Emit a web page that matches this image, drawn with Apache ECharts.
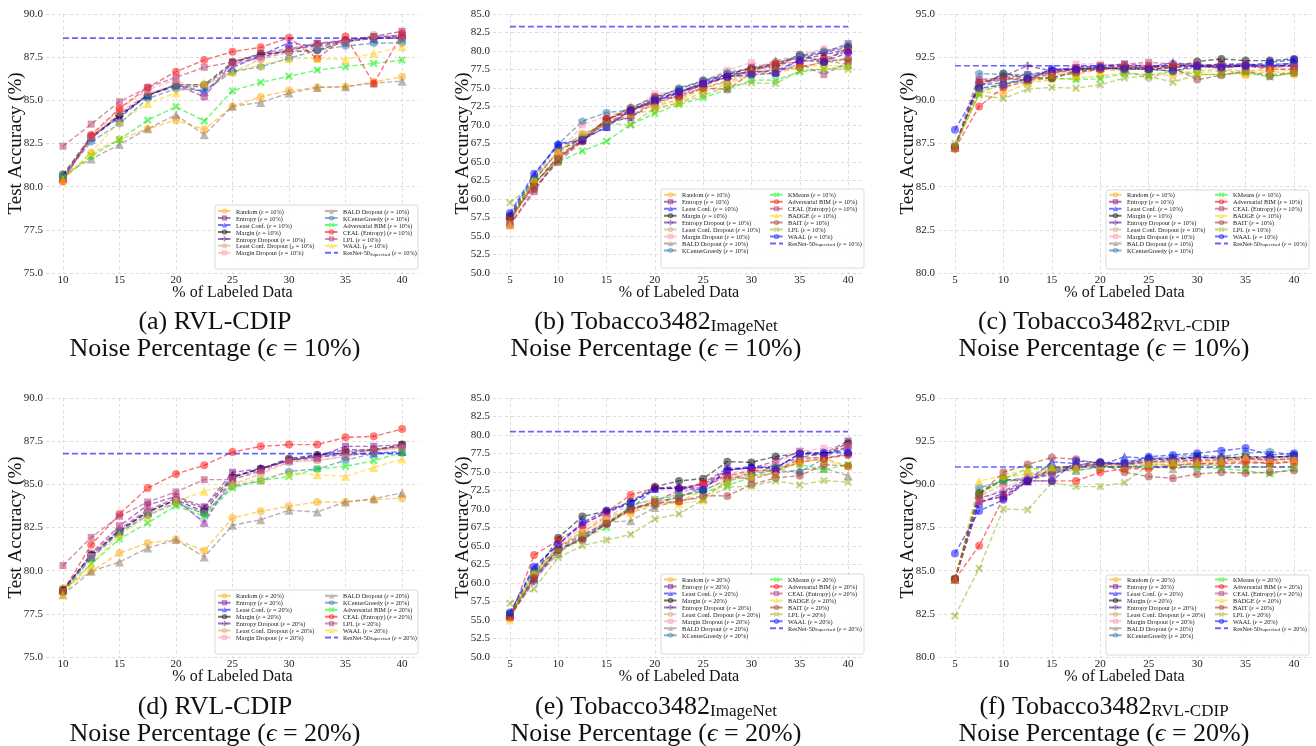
<!DOCTYPE html>
<html><head><meta charset="utf-8">
<script src="https://cdn.jsdelivr.net/npm/echarts@6/dist/echarts.min.js"></script>
<style>html,body{margin:0;padding:0;background:#fff}#c{width:1316px;height:746px}</style>
</head><body><div id="c"></div>
<script>
// ---------------- DATA ----------------
const xRVL = [10, 12.5, 15, 17.5, 20, 22.5, 25, 27.5, 30, 32.5, 35, 37.5, 40];
const xTob = [5, 7.5, 10, 12.5, 15, 17.5, 20, 22.5, 25, 27.5, 30, 32.5, 35, 37.5, 40];
const xTicksRVL = [10, 15, 20, 25, 30, 35, 40];
const xTicksTob = [5, 10, 15, 20, 25, 30, 35, 40];

const methodsRVL = ['Random', 'Entropy', 'Least Conf.', 'Margin', 'Entropy Dropout', 'Least Conf. Dropout', 'Margin Dropout',
  'BALD Dropout', 'KCenterGreedy', 'Adversarial BIM', 'CEAL (Entropy)', 'LPL', 'WAAL'];
const methodsTob = ['Random', 'Entropy', 'Least Conf.', 'Margin', 'Entropy Dropout', 'Least Conf. Dropout', 'Margin Dropout',
  'BALD Dropout', 'KCenterGreedy', 'KMeans', 'Adversarial BIM', 'CEAL (Entropy)', 'BADGE', 'BAIT', 'LPL', 'WAAL'];

// (a) RVL-CDIP, eps = 10%  (rows follow methodsRVL)
const accA = [
  [80.4, 81.96, 82.73, 83.35, 83.85, 83.31, 84.66, 85.2, 85.57, 85.75, 85.79, 86.06, 86.37],
  [80.5, 82.8, 84.2, 85.3, 85.9, 85.2, 87.2, 87.6, 87.9, 88.3, 88.4, 88.7, 89.0],
  [80.5, 82.9, 84.0, 85.3, 85.9, 85.5, 86.9, 87.6, 88.34, 88.1, 88.4, 88.6, 88.8],
  [80.7, 82.9, 84.1, 85.3, 85.9, 85.9, 87.2, 87.7, 87.8, 87.9, 88.4, 88.6, 88.6],
  [80.6, 82.8, 84.1, 85.3, 85.8, 85.8, 87.1, 87.5, 87.9, 88.2, 88.5, 88.6, 88.7],
  [80.4, 82.8, 84.3, 85.4, 85.9, 85.9, 86.6, 87.4, 87.8, 88.1, 88.3, 88.8, 88.5],
  [80.5, 82.9, 84.5, 85.6, 86.2, 85.3, 87.1, 87.4, 87.8, 88.0, 88.4, 88.6, 88.8],
  [80.7, 81.6, 82.44, 83.35, 84.16, 83.0, 84.66, 84.88, 85.42, 85.75, 85.79, 86.0, 86.11],
  [80.6, 82.6, 83.65, 85.1, 85.67, 85.55, 86.66, 86.95, 87.43, 87.91, 88.15, 88.3, 88.34],
  [80.5, 81.77, 82.73, 83.85, 84.63, 83.8, 85.55, 86.04, 86.39, 86.75, 86.95, 87.14, 87.33],
  [80.3, 83.0, 84.53, 85.75, 86.66, 87.33, 87.82, 88.07, 88.63, 87.43, 88.69, 85.98, 88.85],
  [82.34, 83.62, 84.92, 85.75, 86.33, 86.91, 87.22, 87.72, 88.0, 88.3, 88.5, 88.7, 88.75],
  [80.4, 82.0, 83.76, 84.82, 85.44, 86.0, 86.66, 87.04, 87.43, 87.43, 87.37, 87.72, 88.1]
];
// (b) Tobacco3482 ImageNet, eps = 10%  (rows follow methodsTob)
const accB = [
  [56.7, 62.8, 66.3, 68.8, 70.0, 71.5, 72.0, 73.0, 74.5, 75.5, 76.8, 77.0, 77.8, 78.5, 78.8],
  [56.5, 61.0, 65.5, 68.0, 70.5, 71.0, 73.5, 74.5, 75.5, 76.8, 77.8, 78.3, 79.3, 79.8, 81.0],
  [57.8, 63.2, 67.5, 68.0, 69.8, 72.0, 73.2, 74.3, 75.8, 76.8, 77.2, 77.3, 78.8, 79.5, 80.2],
  [57.6, 62.5, 66.5, 68.2, 70.7, 72.3, 73.8, 74.8, 76.0, 76.8, 77.7, 78.0, 79.5, 78.5, 80.5],
  [57.2, 62.0, 65.8, 68.0, 70.3, 71.0, 73.0, 74.5, 75.3, 76.5, 77.2, 78.5, 79.0, 79.8, 80.5],
  [56.8, 62.5, 66.5, 68.8, 70.2, 72.3, 72.5, 73.5, 75.0, 75.8, 77.0, 78.5, 79.0, 78.8, 78.8],
  [56.3, 61.0, 66.0, 70.0, 71.2, 72.0, 74.2, 74.5, 75.9, 77.4, 78.46, 77.5, 79.5, 80.3, 80.0],
  [57.0, 62.0, 65.5, 68.5, 70.5, 72.5, 72.8, 74.0, 75.0, 76.0, 77.5, 78.7, 79.3, 78.7, 78.2],
  [57.8, 62.8, 67.4, 70.5, 71.7, 72.0, 73.5, 75.0, 76.0, 77.1, 77.6, 77.8, 79.4, 80.0, 80.7],
  [57.5, 62.3, 65.0, 66.5, 67.8, 70.07, 71.56, 72.78, 73.68, 74.8, 76.07, 76.07, 77.2, 77.5, 77.96],
  [57.5, 62.0, 65.5, 67.8, 70.8, 72.0, 73.0, 74.0, 75.5, 76.5, 77.5, 78.2, 78.5, 79.0, 80.0],
  [56.5, 61.3, 65.3, 68.0, 70.3, 71.8, 73.8, 74.3, 75.5, 76.5, 77.3, 77.0, 78.3, 76.8, 78.5],
  [56.6, 62.8, 66.5, 68.5, 70.0, 71.5, 72.8, 73.2, 75.0, 75.8, 77.3, 77.5, 78.0, 78.0, 78.0],
  [57.6, 61.5, 65.0, 67.8, 70.8, 71.8, 73.5, 73.8, 75.0, 74.8, 77.0, 77.5, 77.8, 78.5, 79.0],
  [59.5, 62.0, 65.5, 68.3, 70.2, 70.0, 72.3, 73.0, 74.0, 75.2, 75.7, 75.6, 77.3, 77.6, 77.5],
  [58.1, 63.4, 67.3, 68.0, 69.7, 72.0, 73.3, 74.5, 75.6, 76.5, 76.8, 77.0, 78.8, 78.5, 79.8]
];
// (c) Tobacco3482 RVL-CDIP, eps = 10%
const accC = [
  [87.3, 90.5, 90.4, 91.0, 91.2, 91.3, 91.4, 91.6, 91.5, 91.45, 91.7, 91.8, 91.45, 91.7, 91.5],
  [87.3, 91.2, 91.3, 91.5, 91.7, 91.9, 92.0, 92.1, 92.0, 91.9, 92.0, 92.1, 92.0, 91.9, 92.1],
  [87.3, 90.9, 91.0, 91.2, 91.8, 91.8, 91.9, 91.8, 91.9, 92.2, 92.0, 91.9, 92.0, 91.9, 92.2],
  [87.3, 90.8, 91.55, 91.3, 91.3, 91.7, 91.8, 91.9, 91.8, 91.9, 92.25, 92.4, 92.3, 92.3, 92.4],
  [87.3, 91.0, 91.4, 92.0, 91.7, 91.8, 91.9, 92.0, 91.9, 92.1, 92.0, 92.1, 92.1, 92.0, 92.2],
  [87.3, 90.6, 90.8, 91.2, 91.5, 91.6, 91.8, 91.7, 91.3, 91.7, 92.0, 91.8, 91.7, 91.8, 91.8],
  [87.3, 91.0, 91.2, 91.3, 91.6, 92.1, 92.1, 92.0, 92.0, 92.0, 92.1, 92.0, 92.0, 91.9, 92.0],
  [87.3, 90.9, 91.2, 91.4, 91.6, 91.7, 91.9, 91.9, 91.9, 92.0, 92.0, 92.0, 92.1, 91.9, 92.0],
  [87.3, 91.55, 91.5, 91.5, 91.6, 91.8, 91.9, 91.8, 91.8, 91.7, 91.9, 92.0, 92.0, 92.1, 92.1],
  [87.3, 90.4, 91.0, 91.1, 91.3, 91.2, 91.25, 91.55, 91.45, 91.7, 91.5, 91.5, 91.6, 91.35, 91.6],
  [87.2, 89.65, 90.75, 91.1, 91.6, 91.8, 91.8, 91.9, 91.9, 91.9, 92.0, 91.9, 92.0, 91.8, 91.8],
  [87.2, 91.1, 91.2, 91.2, 91.7, 91.9, 92.0, 92.1, 92.2, 92.1, 92.1, 92.0, 92.1, 92.0, 92.0],
  [87.3, 90.6, 91.0, 91.1, 91.5, 91.5, 91.8, 91.8, 91.8, 91.7, 91.6, 91.7, 91.6, 91.8, 91.7],
  [87.3, 91.0, 91.3, 91.2, 91.3, 91.6, 91.8, 91.9, 91.8, 91.9, 91.2, 91.45, 91.7, 91.4, 91.6],
  [87.5, 90.3, 90.1, 90.65, 90.75, 90.7, 90.9, 91.3, 91.4, 91.05, 91.5, 91.5, 91.6, 91.5, 91.6],
  [88.3, 90.7, 90.9, 91.25, 91.8, 91.8, 91.9, 91.8, 91.8, 91.7, 92.0, 91.9, 92.0, 92.2, 92.35]
];
// (d) RVL-CDIP, eps = 20%
const accD = [
  [79.0, 79.96, 81.02, 81.6, 81.8, 81.16, 83.05, 83.44, 83.73, 83.98, 83.98, 84.11, 84.2],
  [78.8, 81.0, 82.6, 83.8, 84.3, 83.7, 85.7, 85.9, 86.4, 86.6, 87.2, 87.2, 87.3],
  [78.9, 80.8, 82.3, 83.4, 84.1, 82.8, 85.4, 85.9, 86.4, 86.6, 86.7, 86.8, 86.9],
  [78.9, 80.9, 82.3, 83.4, 84.1, 83.4, 85.4, 85.9, 86.5, 86.7, 86.8, 87.0, 87.3],
  [78.8, 80.9, 82.4, 83.5, 84.2, 83.6, 85.5, 85.9, 86.4, 86.7, 87.0, 87.0, 87.2],
  [78.7, 80.8, 82.2, 83.3, 84.0, 83.3, 85.0, 85.6, 86.3, 86.4, 86.6, 86.9, 87.1],
  [78.8, 80.8, 82.6, 83.5, 84.2, 82.7, 85.3, 85.7, 86.3, 86.4, 86.6, 87.0, 87.1],
  [78.6, 79.96, 80.5, 81.31, 81.8, 80.79, 82.63, 82.95, 83.5, 83.4, 83.98, 84.17, 84.5],
  [78.8, 80.7, 82.2, 83.2, 83.9, 83.3, 84.9, 85.2, 85.75, 85.89, 86.39, 86.8, 86.8],
  [78.8, 80.39, 81.83, 82.76, 83.76, 83.15, 84.79, 85.21, 85.46, 85.9, 86.04, 86.37, 86.85],
  [78.8, 81.5, 83.28, 84.79, 85.6, 86.1, 86.87, 87.2, 87.3, 87.3, 87.72, 87.78, 88.2],
  [80.3, 81.93, 83.15, 83.98, 84.56, 85.27, 85.27, 85.8, 86.4, 86.5, 86.9, 87.0, 87.2],
  [78.6, 80.39, 82.08, 83.15, 84.02, 84.6, 85.0, 85.33, 85.66, 85.56, 85.46, 85.98, 86.47]
];
// (e) Tobacco3482 ImageNet, eps = 20%
const accE = [
  [55.3, 61.5, 64.8, 67.0, 68.8, 69.5, 70.5, 71.0, 72.5, 73.8, 75.0, 75.5, 76.5, 76.8, 75.8],
  [55.8, 60.5, 64.8, 66.5, 68.2, 70.0, 71.0, 72.5, 73.5, 75.5, 75.5, 76.5, 77.8, 77.5, 79.2],
  [55.8, 62.0, 65.2, 68.0, 69.5, 70.8, 72.8, 73.0, 72.8, 75.2, 75.8, 75.5, 77.5, 77.5, 78.0],
  [55.6, 61.0, 66.1, 69.0, 69.7, 71.0, 73.0, 73.8, 74.1, 76.4, 76.3, 77.1, 77.5, 77.3, 78.9],
  [55.5, 60.2, 64.5, 66.0, 68.0, 70.0, 72.8, 72.8, 73.3, 75.3, 75.5, 75.8, 77.0, 77.5, 78.3],
  [55.4, 61.3, 65.0, 66.8, 69.0, 69.8, 71.0, 71.5, 73.0, 74.3, 75.0, 75.5, 76.8, 77.0, 77.3],
  [55.5, 61.0, 65.0, 67.5, 69.0, 70.5, 71.3, 72.0, 73.3, 74.8, 75.3, 76.2, 77.8, 78.2, 78.5],
  [55.8, 60.5, 64.0, 66.3, 68.2, 68.4, 70.2, 71.2, 71.5, 73.8, 74.5, 74.8, 75.3, 75.5, 74.5],
  [55.8, 61.8, 64.5, 66.3, 68.0, 70.3, 70.5, 71.8, 72.5, 74.0, 74.8, 75.2, 75.0, 76.8, 77.5],
  [55.8, 61.2, 64.3, 66.0, 67.5, 70.5, 71.3, 71.8, 72.3, 73.2, 74.3, 75.6, 76.0, 75.3, 76.0],
  [55.3, 63.77, 65.8, 67.8, 69.6, 71.9, 72.8, 72.8, 73.5, 74.5, 75.2, 75.2, 76.3, 76.8, 77.3],
  [55.3, 60.8, 64.5, 66.0, 68.0, 69.8, 71.0, 71.5, 73.0, 74.5, 74.0, 75.0, 76.8, 77.0, 78.5],
  [55.0, 61.5, 64.8, 66.8, 68.5, 69.5, 71.0, 70.7, 71.2, 73.8, 74.5, 74.8, 76.5, 76.5, 75.8],
  [55.5, 60.7, 64.5, 65.8, 68.0, 70.0, 70.8, 71.0, 71.8, 71.77, 73.3, 74.2, 74.5, 76.0, 75.8],
  [57.26, 59.2, 63.45, 65.04, 65.8, 66.57, 68.65, 69.33, 71.22, 72.94, 73.12, 73.8, 73.26, 73.84, 73.62],
  [56.0, 62.2, 65.2, 68.2, 69.8, 70.8, 72.7, 72.8, 72.6, 75.2, 75.6, 75.5, 77.5, 77.6, 77.6]
];
// (f) Tobacco3482 RVL-CDIP, eps = 20%
const accF = [
  [84.5, 89.3, 90.4, 90.6, 90.9, 91.0, 91.1, 91.0, 91.2, 91.1, 91.2, 91.3, 91.4, 91.2, 91.3],
  [84.5, 89.0, 89.3, 90.2, 90.8, 91.0, 91.2, 91.1, 91.3, 91.3, 91.4, 91.4, 91.5, 91.4, 91.5],
  [84.5, 88.9, 89.5, 90.2, 91.3, 91.2, 91.1, 91.6, 91.5, 91.5, 91.6, 91.5, 91.6, 91.6, 91.6],
  [84.5, 89.5, 90.3, 90.2, 90.9, 91.1, 91.3, 91.1, 91.5, 91.4, 91.6, 91.5, 91.6, 91.5, 91.7],
  [84.5, 89.2, 89.6, 90.3, 90.7, 91.0, 91.2, 91.2, 91.4, 91.5, 91.5, 91.6, 91.5, 91.6, 91.6],
  [84.5, 89.3, 90.0, 90.5, 90.9, 91.1, 91.2, 91.1, 91.3, 91.3, 91.2, 91.3, 91.4, 91.4, 91.5],
  [84.5, 89.0, 89.8, 90.4, 90.7, 90.9, 91.1, 91.2, 91.4, 91.4, 91.3, 91.4, 91.5, 91.4, 91.4],
  [84.5, 89.5, 90.2, 90.4, 90.8, 90.8, 91.0, 91.0, 91.1, 90.9, 91.1, 91.2, 91.2, 91.3, 91.3],
  [84.5, 89.8, 90.2, 90.3, 90.6, 91.0, 91.1, 91.3, 91.5, 91.6, 91.7, 91.6, 91.8, 91.9, 91.7],
  [84.5, 89.5, 90.3, 90.9, 90.9, 90.8, 91.0, 91.0, 91.0, 91.1, 91.0, 90.9, 90.8, 90.6, 90.9],
  [84.5, 86.45, 89.2, 90.2, 90.2, 90.2, 90.7, 90.9, 90.9, 91.1, 91.2, 91.2, 91.3, 91.2, 91.3],
  [84.5, 89.0, 89.3, 90.2, 90.6, 91.0, 91.2, 91.2, 91.3, 91.4, 91.4, 91.4, 91.5, 91.4, 91.5],
  [84.5, 90.2, 90.5, 90.9, 91.0, 91.0, 91.1, 91.0, 91.2, 91.3, 91.3, 91.4, 91.6, 91.5, 91.5],
  [84.5, 89.4, 90.7, 91.15, 91.55, 91.45, 91.2, 90.7, 90.45, 90.35, 90.6, 90.7, 90.65, 90.7, 90.8],
  [82.38, 85.13, 88.57, 88.52, 90.1, 89.87, 89.87, 90.1, 91.1, 91.2, 91.1, 91.1, 91.0, 91.0, 91.0],
  [86.0, 88.46, 89.1, 90.2, 90.2, 91.35, 91.25, 91.2, 91.6, 91.7, 91.8, 91.95, 92.1, 91.7, 91.8]
];
// supervised baselines (ResNet-50 Supervised)
const baseA = 88.6, baseB = 83.3, baseC = 92.0, baseD = 86.78, baseE = 80.45, baseF = 91.0;

// ---------------- STYLE ----------------
const SYM_X = 'path://M0,2L2,0L5,3L8,0L10,2L7,5L10,8L8,10L5,7L2,10L0,8L3,5Z';
const SYM_P = 'path://M3.5,0H6.5V3.5H10V6.5H6.5V10H3.5V6.5H0V3.5H3.5Z';
const SYM_H = 'path://M5,0L9.33,2.5L9.33,7.5L5,10L0.67,7.5L0.67,2.5Z';
const common = [
  { c: '#FFA500', s: 'circle', z: 8 },
  { c: '#800080', s: 'rect', z: 7 },
  { c: '#0000FF', s: 'triangle', z: 9 },
  { c: '#000000', s: 'circle', z: 8 },
  { c: '#4B0082', s: SYM_P, z: 8 },
  { c: '#CFA46E', s: 'circle', z: 8 },
  { c: '#FF8FA8', s: 'rect', z: 7 },
  { c: '#857060', s: 'triangle', z: 9 },
  { c: '#1F6FA0', s: SYM_H, z: 8 }
];
const stylesRVL = common.concat([
  { c: '#00EE00', s: SYM_X, z: 8 },
  { c: '#FF0000', s: 'circle', z: 8 },
  { c: '#B0306A', s: 'rect', z: 7 },
  { c: '#FFCC00', s: 'triangle', z: 9 }
]);
const stylesTob = common.concat([
  { c: '#00EE00', s: SYM_X, z: 8 },
  { c: '#FF0000', s: 'circle', z: 8 },
  { c: '#B0306A', s: 'rect', z: 7 },
  { c: '#FFCC00', s: 'triangle', z: 9 },
  { c: '#A0302A', s: 'circle', z: 8 },
  { c: '#8FB020', s: SYM_X, z: 8 },
  { c: '#0000FF', s: 'circle', z: 8 }
]);

const SERIF = '"Liberation Serif", "DejaVu Serif", serif';
const panels = [
  { id: 'a', eps: '10%', x: xRVL, ticks: xTicksRVL, xmin: 8.5, xmax: 41.5, ymin: 75, ymax: 90, methods: methodsRVL, acc: accA, base: baseA, st: stylesRVL,
    grid: { left: 46, top: 14, width: 373, height: 259 }, split: 7, lg: [217, 324], lgTop: 208.5, box: [215, 205, 203, 64] },
  { id: 'b', eps: '10%', x: xTob, ticks: xTicksTob, xmin: 3.25, xmax: 41.75, ymin: 50, ymax: 85, methods: methodsTob, acc: accB, base: baseB, st: stylesTob,
    grid: { left: 493, top: 14, width: 372, height: 259 }, split: 9, lg: [663, 769], lgTop: 192.2, box: [661, 189, 203, 79] },
  { id: 'c', eps: '10%', x: xTob, ticks: xTicksTob, xmin: 3.25, xmax: 41.75, ymin: 80, ymax: 95, methods: methodsTob, acc: accC, base: baseC, st: stylesTob,
    grid: { left: 938, top: 14, width: 373, height: 259 }, split: 9, lg: [1108, 1214], lgTop: 192.2, box: [1106, 190, 203, 79] },
  { id: 'd', eps: '20%', x: xRVL, ticks: xTicksRVL, xmin: 8.5, xmax: 41.5, ymin: 75, ymax: 90, methods: methodsRVL, acc: accD, base: baseD, st: stylesRVL,
    grid: { left: 46, top: 398, width: 373, height: 259 }, split: 7, lg: [217, 324], lgTop: 593.2, box: [215, 590, 203, 64] },
  { id: 'e', eps: '20%', x: xTob, ticks: xTicksTob, xmin: 3.25, xmax: 41.75, ymin: 50, ymax: 85, methods: methodsTob, acc: accE, base: baseE, st: stylesTob,
    grid: { left: 493, top: 398, width: 372, height: 259 }, split: 9, lg: [663, 769], lgTop: 577, box: [661, 574, 203, 80] },
  { id: 'f', eps: '20%', x: xTob, ticks: xTicksTob, xmin: 3.25, xmax: 41.75, ymin: 80, ymax: 95, methods: methodsTob, acc: accF, base: baseF, st: stylesTob,
    grid: { left: 938, top: 398, width: 373, height: 259 }, split: 9, lg: [1108, 1214], lgTop: 577, box: [1106, 575, 203, 80] }
];

const grids = [], xAxes = [], yAxes = [], series = [], legends = [], graphics = [];
const epsOf = {};
const LEG_FS = 6.3;
const legendRich = {
  n: { fontSize: LEG_FS, fontFamily: SERIF, color: '#222', lineHeight: 8, verticalAlign: 'bottom' },
  i: { fontSize: LEG_FS, fontFamily: SERIF, fontStyle: 'italic', color: '#222', lineHeight: 8, verticalAlign: 'bottom' },
  s: { fontSize: 4.6, fontFamily: SERIF, color: '#222', lineHeight: 5, verticalAlign: 'bottom' }
};
function legendLabel(name) {
  const parts = name.split('|');
  const eps = epsOf[parts[0]];
  if (parts[1] === 'ResNet-50') return '{n|ResNet-50}{s|Supervised}{n| (}{i|ε}{n| = ' + eps + ')}';
  return '{n|' + parts[1] + ' (}{i|ε}{n| = ' + eps + ')}';
}

panels.forEach((p, gi) => {
  epsOf[p.id] = p.eps;
  grids.push(Object.assign({ containLabel: false }, p.grid));
  xAxes.push({
    type: 'value', gridIndex: gi, min: p.xmin, max: p.xmax,
    axisLine: { show: false }, axisTick: { show: false, customValues: p.ticks },
    axisLabel: { customValues: p.ticks, fontSize: 11, fontFamily: SERIF, color: '#222', margin: 2 },
    splitLine: { show: true, lineStyle: { color: '#d4d4d4', type: [3, 3], width: 0.8 } },
    name: '% of Labeled Data', nameLocation: 'middle', nameGap: 12, nameMoveOverlap: false,
    nameTextStyle: { fontSize: 16, fontFamily: SERIF, color: '#111' }
  });
  yAxes.push({
    type: 'value', gridIndex: gi, min: p.ymin, max: p.ymax, interval: 2.5,
    axisLine: { show: false }, axisTick: { show: false },
    axisLabel: { formatter: v => v.toFixed(1), fontSize: 11, fontFamily: SERIF, color: '#222', margin: 3 },
    splitLine: { show: true, lineStyle: { color: '#d4d4d4', type: [3, 3], width: 0.8 } },
    name: 'Test Accuracy (%)', nameLocation: 'middle', nameGap: 20, nameMoveOverlap: false,
    nameTextStyle: { fontSize: 19, fontFamily: SERIF, color: '#111' }
  });
  const names = [];
  p.methods.forEach((m, k) => {
    const st = p.st[k];
    const nm = p.id + '|' + m;
    names.push(nm);
    series.push({
      name: nm, type: 'line', xAxisIndex: gi, yAxisIndex: gi,
      data: p.x.map((xv, j) => [xv, p.acc[k][j]]),
      symbol: st.s, symbolSize: st.z,
      lineStyle: { color: st.c, width: 1.4, type: [5, 2.5], opacity: 0.55 },
      itemStyle: { color: st.c, opacity: 0.5 },
      emphasis: { disabled: true }, silent: true, z: 2
    });
  });
  const bn = p.id + '|ResNet-50';
  series.push({
    name: bn, type: 'line', xAxisIndex: gi, yAxisIndex: gi,
    data: [[p.x[0], p.base], [p.x[p.x.length - 1], p.base]],
    symbol: 'none',
    lineStyle: { color: '#0000FF', width: 1.6, type: [6, 3], opacity: 0.6 },
    itemStyle: { color: '#0000FF', opacity: 0.6 },
    emphasis: { disabled: true }, silent: true, z: 2
  });
  const col1 = names.slice(0, p.split);
  const col2 = names.slice(p.split).concat([{ name: bn, itemStyle: { opacity: 0, color: 'rgba(0,0,0,0)', borderWidth: 0 } }]);
  [col1, col2].forEach((col, ci) => {
    legends.push({
      data: col, orient: 'vertical', left: p.lg[ci], top: p.lgTop, padding: 0,
      itemWidth: 13, itemHeight: 6.5, itemGap: 0.35, selectedMode: false, z: 6,
      formatter: legendLabel,
      textStyle: { fontSize: LEG_FS, fontFamily: SERIF, color: '#222', rich: legendRich }
    });
  });
  graphics.push({
    type: 'rect', z: 5, silent: true,
    shape: { x: p.box[0], y: p.box[1], width: p.box[2], height: p.box[3], r: 2 },
    style: { fill: '#ffffff', stroke: '#cccccc', lineWidth: 0.8, opacity: 0.9 }
  });
});

// captions
const capRich = {
  n: { fontSize: 26, fontFamily: SERIF, color: '#111', lineHeight: 30, verticalAlign: 'bottom' },
  i: { fontSize: 26, fontFamily: SERIF, fontStyle: 'italic', color: '#111', lineHeight: 30, verticalAlign: 'bottom' },
  s: { fontSize: 17, fontFamily: SERIF, color: '#111', lineHeight: 16, verticalAlign: 'bottom' }
};
const captions = [
  [215, 320, '{n|(a) RVL-CDIP}'], [215, 347, '{n|Noise Percentage (}{i|ϵ}{n| = 10%)}'],
  [656, 320, '{n|(b) Tobacco3482}{s|ImageNet}'], [656, 347, '{n|Noise Percentage (}{i|ϵ}{n| = 10%)}'],
  [1104, 320, '{n|(c) Tobacco3482}{s|RVL-CDIP}'], [1104, 347, '{n|Noise Percentage (}{i|ϵ}{n| = 10%)}'],
  [215, 705, '{n|(d) RVL-CDIP}'], [215, 732, '{n|Noise Percentage (}{i|ϵ}{n| = 20%)}'],
  [656, 705, '{n|(e) Tobacco3482}{s|ImageNet}'], [656, 732, '{n|Noise Percentage (}{i|ϵ}{n| = 20%)}'],
  [1104, 705, '{n|(f) Tobacco3482}{s|RVL-CDIP}'], [1104, 732, '{n|Noise Percentage (}{i|ϵ}{n| = 20%)}']
];
captions.forEach(c => {
  graphics.push({
    type: 'text', x: c[0], y: c[1], silent: true,
    style: { text: c[2], rich: capRich, align: 'center', verticalAlign: 'middle', textAlign: 'center', textVerticalAlign: 'middle', fontSize: 26, fontFamily: SERIF, fill: '#111' }
  });
});

const chart = echarts.init(document.getElementById('c'), null, { renderer: 'canvas' });
chart.setOption({
  animation: false,
  backgroundColor: '#ffffff',
  grid: grids, xAxis: xAxes, yAxis: yAxes, series: series, legend: legends,
  graphic: graphics
});
</script></body></html>
